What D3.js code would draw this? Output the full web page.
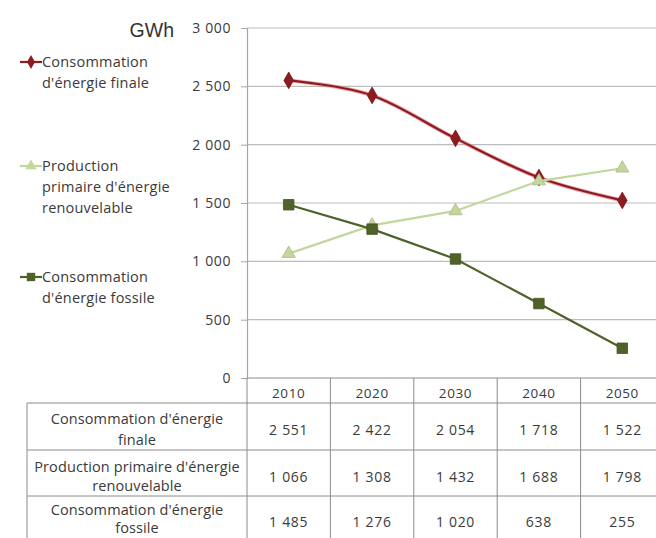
<!DOCTYPE html>
<html><head><meta charset="utf-8">
<script src="https://cdn.jsdelivr.net/npm/d3@7"></script>
<style>
body{margin:0;background:#fff;}
svg{display:block;}
text{font-family:"Open Sans",sans-serif;fill:#3A3A3A;}
</style></head>
<body>
<svg id="c" width="656" height="538"></svg>
<script>
const years = ["2010","2020","2030","2040","2050"];
const seriesNames = ["Consommation d'énergie finale","Production primaire d'énergie renouvelable","Consommation d'énergie fossile"];
const legendLines = [["Consommation","d'énergie finale"],["Production","primaire d'énergie","renouvelable"],["Consommation","d'énergie fossile"]];
const tableLabelLines = [["Consommation d'énergie","finale"],["Production primaire d'énergie","renouvelable"],["Consommation d'énergie","fossile"]];
const finale = [2551,2422,2054,1718,1522];
const renouvelable = [1066,1308,1432,1688,1798];
const fossile = [1485,1276,1020,638,255];
const yTicks = [0,500,1000,1500,2000,2500,3000];
const unit = "GWh";

const series = [
  {name:seriesNames[0], values:finale, color:"#8E1B20", halo:"#E0707A", marker:"diamond", smooth:true},
  {name:seriesNames[1], values:renouvelable, color:"#C3D69B", halo:null, marker:"triangle", smooth:false},
  {name:seriesNames[2], values:fossile, color:"#4F6228", halo:null, marker:"square", smooth:false}
];

const svg = d3.select("#c");
const fmt = d3.formatLocale({decimal:",", thousands:"\u2009", grouping:[3], currency:["","€"]}).format(",d");
const fmtT = v => fmt(v).replace("\u2009"," ");

const x = d3.scaleBand().domain(years).range([247,664]).padding(0);
const y = d3.scaleLinear().domain([0,3000]).range([378,28]);

// gridlines
svg.append("g").selectAll("line").data(yTicks.filter(d=>d>0)).join("line")
  .attr("x1",247).attr("x2",664).attr("y1",d=>y(d)).attr("y2",d=>y(d))
  .attr("stroke","#BDBDBD").attr("stroke-width",1.2);

// y axis
const ya = svg.append("g").attr("transform","translate(247,0)")
  .call(d3.axisLeft(y).tickValues(yTicks).tickSize(6).tickPadding(10).tickFormat(fmtT));
ya.select(".domain").attr("stroke","#A6A6A6").attr("stroke-width",1.2);
ya.selectAll(".tick line").attr("stroke","#A6A6A6");
ya.selectAll(".tick text").attr("font-family","'Open Sans',sans-serif").attr("font-size",14).attr("letter-spacing",0.6).attr("fill","#3A3A3A");

// unit
svg.append("text").attr("x",174).attr("y",37).attr("text-anchor","end")
  .style("font-family","'Liberation Sans',Arial,sans-serif").attr("font-size",19.5).style("fill","#333").text(unit);

// lines
const markerPath = {
  diamond: d3.symbol(d3.symbolDiamond, 80)(),
  triangle: d3.symbol(d3.symbolTriangle, 75)(),
  square: d3.symbol(d3.symbolSquare, 110)()
};
series.forEach(s=>{
  const line = d3.line().x((d,i)=>x(years[i])+x.bandwidth()/2).y(d=>y(d))
    .curve(s.smooth ? d3.curveCardinal.tension(0) : d3.curveLinear);
  const g = svg.append("g");
  if (s.halo) g.append("path").attr("d",line(s.values)).attr("fill","none").attr("stroke",s.halo).attr("stroke-width",4).attr("opacity",0.6);
  g.append("path").attr("d",line(s.values)).attr("fill","none").attr("stroke",s.color).attr("stroke-width",2.2);
  g.selectAll("path.m").data(s.values).join("path").attr("class","m")
    .attr("d",markerPath[s.marker])
    .attr("transform",(d,i)=>`translate(${x(years[i])+x.bandwidth()/2},${y(d)})`)
    .attr("fill",s.color).attr("stroke",d3.color(s.color).darker(0.4)).attr("stroke-width",0.8);
});

// legend
const legendY = [62,166,277];
series.forEach((s,k)=>{
  const g = svg.append("g");
  const ly = legendY[k];
  g.append("line").attr("x1",20).attr("x2",42).attr("y1",ly).attr("y2",ly).attr("stroke",s.color).attr("stroke-width",2.2);
  g.append("path").attr("d",d3.symbol(k===0?d3.symbolDiamond:k===1?d3.symbolTriangle:d3.symbolSquare, k===2?70:55)())
    .attr("transform",`translate(31,${ly})`).attr("fill",s.color);
  legendLines[k].forEach((t,j)=>{
    g.append("text").attr("x",42).attr("y",ly+5+j*21).attr("font-size",14.5).attr("letter-spacing",0.2).text(t);
  });
});

// table
const tbl = svg.append("g");
const rowTop = [403,450,496,542];
const lc = "#8C8C8C";
years.forEach(yr=>{
  tbl.append("text").attr("x",x(yr)+x.bandwidth()/2).attr("y",398).attr("text-anchor","middle").attr("font-size",13.5).attr("letter-spacing",0.6).text(yr);
});
tbl.append("line").attr("x1",247).attr("x2",664).attr("y1",378).attr("y2",378).attr("stroke",lc);
rowTop.slice(0,3).forEach(ry=>{
  tbl.append("line").attr("x1",27).attr("x2",664).attr("y1",ry).attr("y2",ry).attr("stroke",lc);
});
tbl.append("line").attr("x1",27).attr("x2",27).attr("y1",403).attr("y2",538).attr("stroke",lc);
years.forEach(yr=>{
  tbl.append("line").attr("x1",x(yr)).attr("x2",x(yr)).attr("y1",378).attr("y2",538).attr("stroke",lc);
});
const labelBase = [[424,445],[472,491],[515,533]];
const numBase = [435,482,527];
series.forEach((s,r)=>{
  tableLabelLines[r].forEach((t,j)=>{
    tbl.append("text").attr("x",137).attr("y",labelBase[r][j]).attr("text-anchor","middle").attr("font-size",14.5).attr("letter-spacing",0.1).text(t);
  });
  s.values.forEach((v,i)=>{
    tbl.append("text").attr("x",x(years[i])+x.bandwidth()/2).attr("y",numBase[r]).attr("text-anchor","middle").attr("font-size",14).attr("letter-spacing",0.7).text(fmtT(v));
  });
});
</script>
</body></html>
